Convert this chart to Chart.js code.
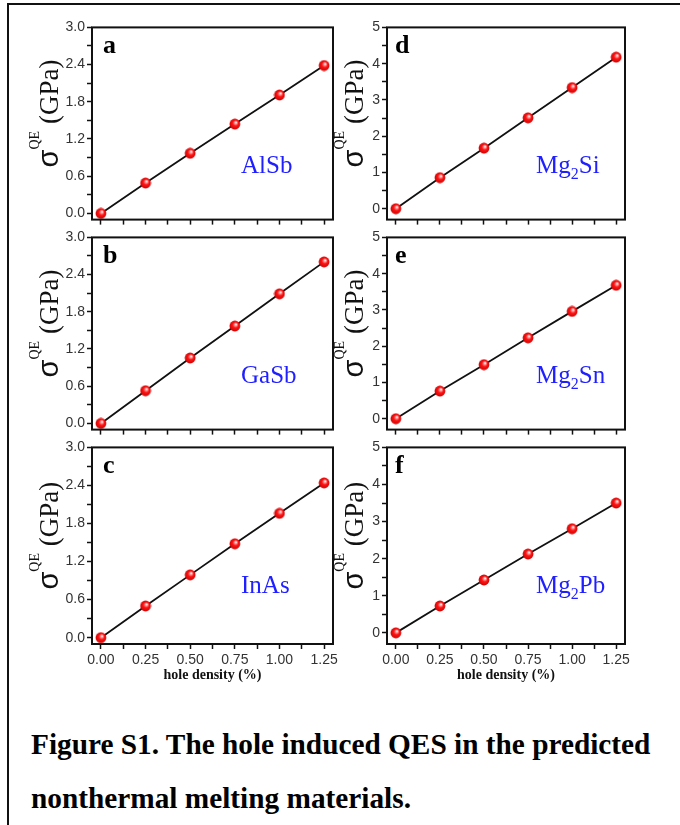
<!DOCTYPE html>
<html><head><meta charset="utf-8">
<script src="https://cdn.jsdelivr.net/npm/chart.js@4.4.0/dist/chart.umd.min.js"></script>
<style>
html,body{margin:0;padding:0;background:#fff;}
body{width:680px;height:825px;position:relative;overflow:hidden;}
#frameTop{position:absolute;left:7px;top:3px;width:673px;height:2px;background:#111;}
#frameLeft{position:absolute;left:7px;top:3px;width:2px;height:822px;background:#111;}
canvas{position:absolute;}
.cap{position:absolute;left:31px;font:bold 29.3px "Liberation Serif";line-height:40px;color:#000;white-space:nowrap;}
</style></head><body>
<div id="frameTop"></div><div id="frameLeft"></div>
<canvas id="pa"></canvas><canvas id="pb"></canvas><canvas id="pc"></canvas>
<canvas id="pd"></canvas><canvas id="pe"></canvas><canvas id="pf"></canvas>
<div class="cap" id="cap1">Figure S1. The hole induced QES in the predicted</div>
<div class="cap" id="cap2">nonthermal melting materials.</div>
<script>
// ---- data ----
const holeDensity = [0, 0.25, 0.5, 0.75, 1.0, 1.25];
const xTickLabels = ['0.00','0.25','0.50','0.75','1.00','1.25'];
const yTickLabelsLeft = ['0.0','0.6','1.2','1.8','2.4','3.0'];
const yTickLabelsRight = ['0','1','2','3','4','5'];
const sigmaAlSb  = [0, 0.49, 0.97, 1.44, 1.91, 2.385];
const sigmaGaSb  = [0, 0.527, 1.055, 1.57, 2.09, 2.605];
const sigmaInAs  = [0, 0.50, 0.99, 1.48, 1.96, 2.44];
const sigmaMg2Si = [0, 0.857, 1.67, 2.506, 3.34, 4.18];
const sigmaMg2Sn = [0, 0.762, 1.49, 2.23, 2.96, 3.68];
const sigmaMg2Pb = [0, 0.726, 1.426, 2.125, 2.807, 3.50];
const panelLetters = ['a','b','c','d','e','f'];
const materials = ['AlSb','GaSb','InAs','Mg2Si','Mg2Sn','Mg2Pb'];
const xTitle = 'hole density (%)';

// ---- helpers ----
function withMinors(labels){
  const v = labels.map(parseFloat);
  const out = [];
  for (let i=0;i<v.length;i++){ out.push(v[i]); if (i<v.length-1) out.push((v[i]+v[i+1])/2); }
  return out;
}
function labelFor(labels, value){
  for (const l of labels){ if (Math.abs(parseFloat(l)-value) < 1e-6) return l; }
  return '';
}
function makeSphere(){
  const c = document.createElement('canvas'); c.width = 12; c.height = 12;
  const g = c.getContext('2d');
  const grad = g.createRadialGradient(7.2, 4.2, 0.2, 6, 6, 6);
  grad.addColorStop(0, '#ffffff');
  grad.addColorStop(0.18, '#ff9a9a');
  grad.addColorStop(0.45, '#ff1414');
  grad.addColorStop(1, '#c80000');
  g.fillStyle = grad; g.beginPath(); g.arc(6, 6, 5.4, 0, Math.PI*2); g.fill();
  return c;
}
const sphere = makeSphere();

const decorPlugin = {
  id: 'decor',
  afterDraw(chart, args, o) {
    const {ctx, chartArea: a} = chart;
    ctx.save();
    ctx.strokeStyle = '#111'; ctx.lineWidth = 2;
    ctx.strokeRect(a.left, a.top, a.right - a.left, a.bottom - a.top);
    ctx.textAlign = 'left'; ctx.textBaseline = 'alphabetic';
    // panel letter
    ctx.fillStyle = '#000';
    ctx.font = 'bold 26px "Liberation Serif"';
    ctx.fillText(o.letter, a.left + o.letterDx, a.top + 26);
    // material label with subscripts
    ctx.fillStyle = '#1f1fff';
    let x = a.left + 149, y = a.top + 146;
    for (const ch of o.material.match(/\d+|\D+/g)) {
      const sub = /\d/.test(ch);
      ctx.font = sub ? '16px "Liberation Serif"' : '25px "Liberation Serif"';
      ctx.fillText(ch, x, y + (sub ? 6 : 0));
      x += ctx.measureText(ch).width;
    }
    // y title (rotated)
    const parts = [
      {t: 'σ', f: '29px "Liberation Sans"', dy: 0},
      {t: 'QE', f: '14px "Liberation Serif"', dy: -19},
      {t: ' (GPa)', f: '27px "Liberation Serif"', dy: 0}
    ];
    let total = 0;
    for (const p of parts){ ctx.font = p.f; p.w = ctx.measureText(p.t).width; total += p.w; }
    const cy = (a.top + a.bottom)/2 - 10;
    ctx.translate(o.titleX, cy + total/2);
    ctx.rotate(-Math.PI/2);
    ctx.fillStyle = '#111';
    let tx = 0;
    for (const p of parts){ ctx.font = p.f; ctx.fillText(p.t, tx, p.dy); tx += p.w; }
    ctx.restore();
  }
};

const xTicks = withMinors(xTickLabels);
const leftTicks = withMinors(yTickLabelsLeft);
const rightTicks = withMinors(yTickLabelsRight);

// layout: [id, series, column(0/1), row(0..2)]
const panels = [
  ['pa', sigmaAlSb, 0, 0], ['pb', sigmaGaSb, 0, 1], ['pc', sigmaInAs, 0, 2],
  ['pd', sigmaMg2Si, 1, 0], ['pe', sigmaMg2Sn, 1, 1], ['pf', sigmaMg2Pb, 1, 2]
];
const rowTops = [27, 237, 447];
const plotH = 197;

panels.forEach(([id, series, col, row], i) => {
  const bottom = row === 2;
  const xh = bottom ? 40 : 6;
  const canvas = document.getElementById(id);
  const cw = 350, ch = 10 + plotH + xh;
  canvas.width = cw; canvas.height = ch;
  canvas.style.width = cw + 'px'; canvas.style.height = ch + 'px';
  canvas.style.left = (col === 0 ? 0 : 330) + 'px';
  canvas.style.top = (rowTops[row] - 10) + 'px';
  const yw = col === 0 ? 92 : 57;
  const plotW = col === 0 ? 241 : 238;
  const yLabels = col === 0 ? yTickLabelsLeft : yTickLabelsRight;
  const yTicks = col === 0 ? leftTicks : rightTicks;
  new Chart(canvas, {
    type: 'line',
    data: { datasets: [{
      data: holeDensity.map((x, k) => ({x, y: series[k]})),
      borderColor: '#111', borderWidth: 1.8, tension: 0,
      pointStyle: sphere, pointRadius: 5, clip: false
    }]},
    options: {
      responsive: false, animation: false, devicePixelRatio: 1,
      layout: { padding: { top: 10, left: 0, bottom: 0, right: cw - yw - plotW } },
      plugins: {
        legend: { display: false }, tooltip: { enabled: false },
        decor: { letter: panelLetters[i], letterDx: col === 0 ? 11 : 8, material: materials[i], titleX: col === 0 ? 58 : 33 }
      },
      scales: {
        x: {
          type: 'linear', min: -0.05, max: 1.30,
          afterBuildTicks(s){ s.ticks = xTicks.map(v => ({value: v})); },
          afterFit(s){ s.height = xh; },
          ticks: {
            autoSkip: false, maxRotation: 0, includeBounds: false, padding: 3,
            color: '#333', font: { family: 'Liberation Sans', size: 14 },
            callback: (v) => bottom ? labelFor(xTickLabels, v) : ''
          },
          grid: { drawOnChartArea: false, tickLength: 5, tickColor: '#111', tickWidth: 1.5 },
          border: { display: false },
          title: { display: bottom, text: xTitle, color: '#111',
                   font: { family: 'Liberation Serif', weight: 'bold', size: 14 }, padding: 0 }
        },
        y: {
          type: 'linear', min: col === 0 ? -0.1 : -0.3, max: col === 0 ? 3.0 : 5,
          afterBuildTicks(s){ s.ticks = yTicks.map(v => ({value: v})); },
          afterFit(s){ s.width = yw; },
          ticks: {
            autoSkip: false, includeBounds: false, padding: 2,
            color: '#333', font: { family: 'Liberation Sans', size: 14 },
            callback: (v) => labelFor(yLabels, v)
          },
          grid: { drawOnChartArea: false, tickLength: 5, tickColor: '#111', tickWidth: 1.5 },
          border: { display: false }
        }
      }
    },
    plugins: [decorPlugin]
  });
});

document.getElementById('cap1').style.top = '724px';
document.getElementById('cap2').style.top = '778px';
</script>
</body></html>
